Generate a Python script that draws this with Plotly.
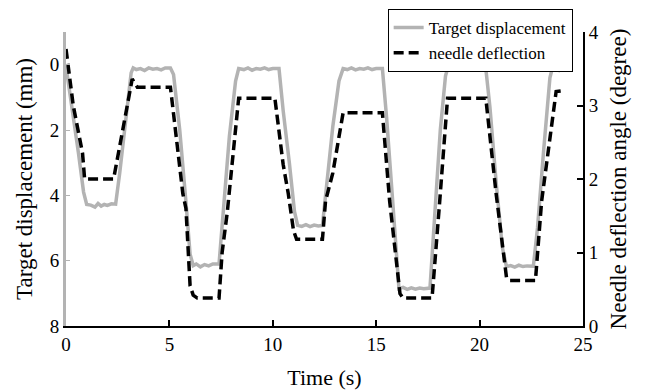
import plotly.graph_objects as go

# Target displacement (mm), left axis (reversed)
time_target = [0.0, 0.3, 0.6, 0.85, 1.0, 1.2, 1.4, 1.55, 1.7, 1.85, 2.0, 2.2, 2.4,
               2.6, 2.9, 3.15, 3.25, 3.4, 3.6, 3.8, 4.0, 4.2, 4.4, 4.6, 4.8, 5.05,
               5.2, 5.5, 5.8, 6.0, 6.15, 6.3, 6.5, 6.7, 6.9, 7.1, 7.4,
               7.6, 7.9, 8.2, 8.35, 8.6, 8.8, 9.0, 9.2, 9.4, 9.6, 9.8, 10.0, 10.3,
               10.5, 10.8, 11.05, 11.2, 11.4, 11.6, 11.8, 12.0, 12.2, 12.4,
               12.6, 12.9, 13.2, 13.4, 13.6, 13.8, 14.0, 14.2, 14.4, 14.6, 14.8, 15.0, 15.3,
               15.5, 15.8, 16.0, 16.1, 16.3, 16.5, 16.7, 16.9, 17.1, 17.3, 17.6,
               17.8, 18.1, 18.35, 18.45, 18.7, 18.9, 19.1, 19.3, 19.5, 19.7, 19.9, 20.1, 20.3,
               20.5, 20.8, 21.1, 21.3, 21.5, 21.7, 21.9, 22.1, 22.3, 22.6,
               22.8, 23.1, 23.4, 23.5, 23.7, 23.85, 24.0]
target_mm = [0.05, 1.3, 2.7, 3.9, 4.28, 4.3, 4.36, 4.25, 4.33, 4.28, 4.31, 4.26, 4.27,
             3.3, 1.6, 0.25, 0.1, 0.15, 0.12, 0.18, 0.1, 0.14, 0.12, 0.16, 0.1, 0.1,
             0.3, 2.0, 4.2, 5.8, 6.15, 6.1, 6.19, 6.12, 6.16, 6.1, 6.1,
             4.5, 2.2, 0.5, 0.12, 0.15, 0.1, 0.17, 0.12, 0.14, 0.1, 0.15, 0.12, 0.12,
             1.4, 3.0, 4.5, 4.92, 4.95, 4.9, 4.96, 4.91, 4.94, 4.92,
             3.8, 1.9, 0.5, 0.12, 0.15, 0.1, 0.16, 0.12, 0.14, 0.1, 0.15, 0.12, 0.12,
             1.6, 4.2, 6.1, 6.86, 6.82, 6.88, 6.83, 6.87, 6.84, 6.86, 6.84,
             5.0, 2.0, 0.35, 0.12, 0.15, 0.1, 0.16, 0.12, 0.14, 0.1, 0.15, 0.12, 0.12,
             1.3, 3.6, 5.6, 6.18, 6.15, 6.2, 6.14, 6.18, 6.16, 6.17,
             5.0, 2.6, 0.4, 0.15, 0.12, 0.18, 0.14]

# Needle deflection angle (degree), right axis
time_needle = [0.0, 0.35, 0.8, 0.9, 2.3, 2.45, 2.6, 3.2, 3.45, 5.05, 5.4, 5.65, 5.8,
               6.0, 6.15, 6.35, 7.4, 7.55, 7.8, 8.35, 10.1, 10.5, 10.75, 11.0, 11.15,
               12.4, 12.55, 12.9, 13.4, 15.3, 15.65, 16.15, 16.3, 17.7, 18.05, 18.45,
               20.3, 20.8, 21.3, 21.45, 22.7, 23.0, 23.7, 24.0]
needle_deg = [3.77, 3.0, 2.35, 2.0, 2.0, 2.25, 2.45, 3.36, 3.25, 3.25, 2.4, 1.8, 1.6,
              0.55, 0.42, 0.38, 0.38, 1.0, 1.55, 3.1, 3.1, 2.2, 1.8, 1.3, 1.18,
              1.18, 1.7, 2.08, 2.9, 2.9, 1.7, 0.44, 0.38, 0.38, 1.62, 3.1,
              3.1, 1.8, 0.66, 0.62, 0.62, 1.7, 3.19, 3.2]

x_ticks = [0, 5, 10, 15, 20, 25]
left_ticks = [0, 2, 4, 6, 8]
right_ticks = [0, 1, 2, 3, 4]

FONT = "Liberation Serif"
GRAY = "#b3b3b3"

fig = go.Figure()
fig.add_trace(go.Scatter(x=time_target, y=target_mm, mode="lines",
                         name="Target displacement",
                         line=dict(color=GRAY, width=3.5), yaxis="y"))
fig.add_trace(go.Scatter(x=time_needle, y=needle_deg, mode="lines",
                         name="needle deflection",
                         line=dict(color="black", width=3.5, dash="10px,5px"), yaxis="y2"))

fig.update_layout(
    width=648, height=392,
    margin=dict(l=66, r=65, t=32, b=66, autoexpand=False),
    paper_bgcolor="white", plot_bgcolor="white",
    font=dict(family=FONT, size=19, color="black"),
    xaxis=dict(range=[0, 25], tickvals=x_ticks, showgrid=False, zeroline=False,
               showline=True, linecolor="black", linewidth=2,
               ticks="inside", ticklen=6, tickwidth=1.5, tickcolor="black",
               title=dict(text="Time (s)", font=dict(size=22), standoff=16)),
    yaxis=dict(range=[8, -1], tickvals=left_ticks, showgrid=False, zeroline=False,
               showline=True, linecolor=GRAY, linewidth=3,
               ticks="inside", ticklen=4, tickcolor=GRAY,
               title=dict(text="Target displacement (mm)", font=dict(size=23), standoff=11)),
    yaxis2=dict(range=[0, 4], tickvals=right_ticks, overlaying="y", side="right",
                showgrid=False, zeroline=False,
                showline=True, linecolor="black", linewidth=2,
                ticks="inside", ticklen=6, tickwidth=1.5, tickcolor="black",
                title=dict(text="Needle deflection angle (degree)", font=dict(size=23), standoff=12)),
    legend=dict(x=0.98, y=1.078, xanchor="right", yanchor="top",
                bgcolor="white", bordercolor="black", borderwidth=1,
                font=dict(size=17), tracegroupgap=0),
    showlegend=True,
)

fig.write_html("out.html", config={"displayModeBar": False},
               post_script="document.body.style.margin='0';document.body.style.padding='0';")
